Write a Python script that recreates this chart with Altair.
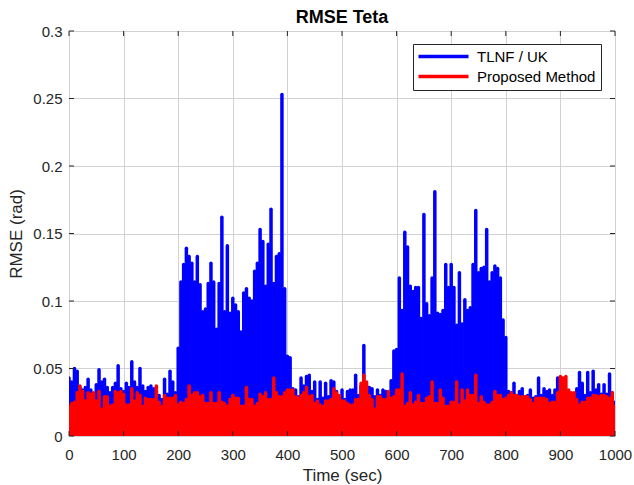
import altair as alt
import pandas as pd

# ---- data (5-second samples) ----
TIME = list(range(0, 1001, 5))

TLNF_UK = [
    0.043, 0.040, 0.050, 0.048, 0.036, 0.034, 0.036, 0.042, 0.034, 0.030,
    0.038, 0.049, 0.040, 0.042, 0.036, 0.032, 0.036, 0.039, 0.052, 0.035,
    0.033, 0.039, 0.036, 0.055, 0.040, 0.036, 0.050, 0.037, 0.033, 0.036,
    0.037, 0.035, 0.033, 0.030, 0.027, 0.042, 0.031, 0.048, 0.040, 0.032,
    0.065, 0.114, 0.127, 0.139, 0.133, 0.128, 0.114, 0.133, 0.112, 0.092,
    0.094, 0.113, 0.128, 0.114, 0.079, 0.113, 0.162, 0.092, 0.141, 0.091,
    0.102, 0.097, 0.092, 0.077, 0.106, 0.109, 0.102, 0.100, 0.122, 0.128,
    0.153, 0.144, 0.111, 0.142, 0.168, 0.113, 0.133, 0.135, 0.253, 0.109,
    0.059, 0.058, 0.035, 0.034, 0.029, 0.043, 0.037, 0.044, 0.045, 0.033,
    0.040, 0.027, 0.040, 0.028, 0.039, 0.029, 0.041, 0.040, 0.033, 0.028,
    0.034, 0.027, 0.033, 0.034, 0.034, 0.045, 0.030, 0.037, 0.067, 0.037,
    0.036, 0.035, 0.029, 0.034, 0.030, 0.034, 0.033, 0.032, 0.041, 0.063,
    0.064, 0.117, 0.093, 0.151, 0.140, 0.111, 0.107, 0.110, 0.110, 0.087,
    0.164, 0.098, 0.089, 0.117, 0.181, 0.091, 0.090, 0.093, 0.127, 0.110,
    0.127, 0.110, 0.082, 0.121, 0.083, 0.101, 0.093, 0.095, 0.127, 0.167,
    0.121, 0.124, 0.125, 0.153, 0.114, 0.121, 0.126, 0.124, 0.117, 0.086,
    0.073, 0.033, 0.032, 0.039, 0.030, 0.033, 0.035, 0.029, 0.030, 0.034,
    0.028, 0.029, 0.043, 0.030, 0.035, 0.033, 0.034, 0.030, 0.034, 0.043,
    0.028, 0.036, 0.030, 0.033, 0.031, 0.030, 0.035, 0.047, 0.039, 0.030,
    0.047, 0.032, 0.048, 0.034, 0.038, 0.031, 0.038, 0.031, 0.046, 0.032,
    0.025,
]

PROPOSED = [
    0.022, 0.024, 0.025, 0.032, 0.037, 0.033, 0.026, 0.032, 0.031, 0.032,
    0.026, 0.033, 0.020, 0.029, 0.029, 0.022, 0.023, 0.033, 0.032, 0.033,
    0.031, 0.023, 0.023, 0.035, 0.026, 0.032, 0.030, 0.022, 0.028, 0.027,
    0.027, 0.027, 0.037, 0.025, 0.022, 0.030, 0.028, 0.028, 0.028, 0.030,
    0.023, 0.025, 0.024, 0.027, 0.037, 0.030, 0.032, 0.032, 0.029, 0.030,
    0.024, 0.024, 0.032, 0.024, 0.024, 0.032, 0.025, 0.024, 0.022, 0.027,
    0.030, 0.028, 0.028, 0.022, 0.022, 0.036, 0.027, 0.027, 0.022, 0.024,
    0.031, 0.029, 0.032, 0.027, 0.027, 0.043, 0.032, 0.029, 0.029, 0.032,
    0.034, 0.034, 0.034, 0.029, 0.028, 0.030, 0.032, 0.036, 0.029, 0.030,
    0.024, 0.026, 0.023, 0.022, 0.026, 0.026, 0.027, 0.035, 0.032, 0.030,
    0.026, 0.026, 0.024, 0.023, 0.023, 0.027, 0.027, 0.039, 0.045, 0.040,
    0.030, 0.027, 0.020, 0.029, 0.029, 0.027, 0.027, 0.033, 0.028, 0.029,
    0.034, 0.034, 0.046, 0.022, 0.024, 0.032, 0.023, 0.025, 0.030, 0.024,
    0.024, 0.028, 0.029, 0.040, 0.024, 0.024, 0.034, 0.028, 0.022, 0.022,
    0.025, 0.025, 0.040, 0.023, 0.034, 0.026, 0.034, 0.030, 0.030, 0.045,
    0.024, 0.029, 0.025, 0.023, 0.023, 0.025, 0.033, 0.030, 0.030, 0.027,
    0.028, 0.030, 0.032, 0.030, 0.030, 0.029, 0.029, 0.029, 0.029, 0.027,
    0.024, 0.028, 0.028, 0.028, 0.028, 0.027, 0.024, 0.025, 0.025, 0.032,
    0.044, 0.043, 0.044, 0.034, 0.032, 0.032, 0.027, 0.023, 0.025, 0.025,
    0.028, 0.028, 0.030, 0.030, 0.029, 0.030, 0.030, 0.029, 0.028, 0.032,
    0.022,
]

SERIES = ["TLNF / UK", "Proposed Method"]
COLORS = ["#0000ff", "#ff0000"]
X_TICKS = [0, 100, 200, 300, 400, 500, 600, 700, 800, 900, 1000]
Y_TICKS = [0, 0.05, 0.1, 0.15, 0.2, 0.25, 0.3]

rows = []
for name, values in zip(SERIES, [TLNF_UK, PROPOSED]):
    for t, v in zip(TIME, values):
        rows.append({"t": t, "v": v, "s": name})
df = pd.DataFrame(rows)

W, H = 546, 405
FONT = "Liberation Sans"
INK = "#262626"

x_scale = alt.Scale(domain=[0, 1000], nice=False, zero=False)
y_scale = alt.Scale(domain=[0, 0.3], nice=False)

x_axis = alt.Axis(
    values=X_TICKS, format="d", title="Time (sec)", grid=True, domain=False, ticks=False,
    labelFlush=False, labelPadding=11, labelFontSize=15, labelFont=FONT, labelColor=INK,
    titleFontSize=17, titleFont=FONT, titleFontWeight="normal", titleColor=INK,
    titleBaseline="alphabetic", titleY=44.5, titleX=W / 2,
    gridColor="#d2d2d2", gridWidth=1)
y_axis = alt.Axis(
    values=Y_TICKS, format="~g", title="RMSE (rad)", grid=True, domain=False, ticks=False,
    labelFlush=False, labelPadding=7, labelFontSize=15, labelFont=FONT, labelColor=INK,
    titleFontSize=17, titleFont=FONT, titleFontWeight="normal", titleColor=INK,
    titleAngle=270, titleBaseline="alphabetic", titleAlign="center",
    titleX=-48, titleY=H / 2,
    gridColor="#d2d2d2", gridWidth=1)

data_layer = alt.Chart(df).mark_rule(strokeWidth=3.5, strokeCap="round", clip=True).encode(
    x=alt.X("t:Q", scale=x_scale, axis=x_axis),
    y=alt.Y("v:Q", scale=y_scale, axis=y_axis),
    y2=alt.datum(0),
    color=alt.Color("s:N", scale=alt.Scale(domain=SERIES, range=COLORS), legend=alt.Legend(
        title=None, orient="none", legendX=344, legendY=13,
        symbolType="M-1.4,0H8.6", symbolSize=100, symbolStrokeWidth=3.5,
        labelFontSize=15, labelFont=FONT, labelColor="black", labelOffset=44,
        padding=5, rowPadding=4, fillColor="white", strokeColor=INK)),
)

xt = pd.DataFrame({"t": X_TICKS})
yt = pd.DataFrame({"v": Y_TICKS})
tick_style = dict(color=INK, strokeWidth=1)

tick_bottom = alt.Chart(xt).mark_rule(**tick_style).encode(
    x=alt.X("t:Q", scale=x_scale, axis=x_axis), y=alt.value(H), y2=alt.value(H - 5))
tick_top = alt.Chart(xt).mark_rule(**tick_style).encode(
    x=alt.X("t:Q", scale=x_scale, axis=x_axis), y=alt.value(0), y2=alt.value(5))
tick_left = alt.Chart(yt).mark_rule(**tick_style).encode(
    y=alt.Y("v:Q", scale=y_scale, axis=y_axis), x=alt.value(0), x2=alt.value(5))
tick_right = alt.Chart(yt).mark_rule(**tick_style).encode(
    y=alt.Y("v:Q", scale=y_scale, axis=y_axis), x=alt.value(W), x2=alt.value(W - 5))

chart = alt.layer(data_layer, tick_bottom, tick_top, tick_left, tick_right).properties(
    width=W, height=H,
    title=alt.Title("RMSE Teta", fontSize=18, fontWeight="bold", font=FONT, color="black",
                    anchor="middle", frame="group", baseline="alphabetic", offset=-17),
    autosize=alt.AutoSizeParams(type="none"),
    padding={"left": 69, "top": 31, "right": 19, "bottom": 49},
).configure_view(stroke=INK, strokeWidth=1).configure(background="white")

chart.save("out.html", embed_options={"renderer": "svg", "actions": False})
